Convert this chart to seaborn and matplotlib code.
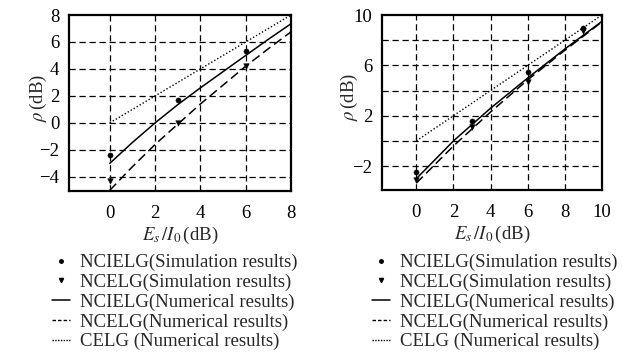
import matplotlib
matplotlib.use("Agg")
import matplotlib.pyplot as plt
from matplotlib.lines import Line2D
import seaborn as sns
import pandas as pd

# left panel
left_x_num = [0, 1, 2, 3, 4, 5, 6, 7, 8]
left_ncielg_num = [-3.0, -1.45, 0.0, 1.35, 2.6, 3.8, 5.0, 6.2, 7.35]
left_ncelg_num = [-5.0, -3.25, -1.6, -0.1, 1.4, 2.8, 4.2, 5.5, 6.75]
left_celg_num = [0, 1, 2, 3, 4, 5, 6, 7, 8]
left_x_sim = [0, 3, 6]
left_ncielg_sim = [-2.35, 1.7, 5.3]
left_ncelg_sim = [-4.3, 0.0, 4.2]

# right panel
right_x_num = [0, 2, 4, 6, 8, 10]
right_ncielg_num = [-3.0, 0.0, 2.6, 5.0, 7.3, 9.5]
right_ncelg_num = [-3.35, -0.4, 2.3, 4.85, 7.2, 9.45]
right_celg_num = [0, 2, 4, 6, 8, 10]
right_x_sim = [0, 3, 6, 9]
right_ncielg_sim = [-2.45, 1.6, 5.5, 9.0]
right_ncelg_sim = [-3.1, 1.1, 4.7, 8.7]

labels = ["NCIELG(Simulation results)", "NCELG(Simulation results)",
          "NCIELG(Numerical results)", "NCELG(Numerical results)",
          "CELG (Numerical results)"]

sns.set_theme(style="white")
plt.rcParams["font.family"] = ["Liberation Serif", "DejaVu Serif"]
plt.rcParams["mathtext.fontset"] = "stix"

W, H = 622, 356
fig = plt.figure(figsize=(W / 100, H / 100), dpi=100)


def px_axes(x0, y0, x1, y1):
    return fig.add_axes([x0 / W, 1 - y1 / H, (x1 - x0) / W, (y1 - y0) / H])


def panel(ax, xn, a, b, c, xs, sa, sb, xlim, ylim, xticks, yticks, ygrid,
          ylab_x):
    num = pd.DataFrame({"x": xn, "a": a, "b": b, "c": c})
    sim = pd.DataFrame({"x": xs, "a": sa, "b": sb})
    sns.lineplot(data=num, x="x", y="a", ax=ax, color="black", lw=1.1)
    sns.lineplot(data=num, x="x", y="b", ax=ax, color="black", lw=1.1,
                 linestyle=(0, (6, 3)))
    sns.lineplot(data=num, x="x", y="c", ax=ax, color="black", lw=1.0,
                 linestyle=(0, (1, 1.5)))
    sns.scatterplot(data=sim, x="x", y="a", ax=ax, color="black", s=14,
                    marker="o", edgecolor="black")
    sns.scatterplot(data=sim, x="x", y="b", ax=ax, color="black", s=16,
                    marker="v", edgecolor="black")
    ax.set_xlim(*xlim)
    ax.set_ylim(*ylim)
    ax.set_xticks(xticks)
    ax.set_yticks(yticks)
    for g in xticks:
        if g < xlim[1] - 0.1:
            ax.axvline(g, color="black", lw=0.9, ls=(0, (5, 3)), zorder=0)
    for g in ygrid:
        ax.axhline(g, color="black", lw=0.9, ls=(0, (5, 3)), zorder=0)
    ax.tick_params(length=0, labelsize=13.5, colors="black")
    ax.tick_params(axis="x", pad=10)
    ax.tick_params(axis="y", pad=7)
    for s in ax.spines.values():
        s.set_color("black")
        s.set_linewidth(1.6)
    ax.set_xlabel(r"$E_s\,/I_0\,$(dB)", fontsize=13.5, labelpad=2)
    ax.set_ylabel(r"$\rho\,$(dB)", fontsize=13.5)
    ax.yaxis.set_label_coords(ylab_x, 0.53)


ax1 = px_axes(69, 15, 291, 191)
panel(ax1, left_x_num, left_ncielg_num, left_ncelg_num, left_celg_num,
      left_x_sim, left_ncielg_sim, left_ncelg_sim,
      (-1.8, 8), (-5.05, 8), [0, 2, 4, 6, 8], [-4, -2, 0, 2, 4, 6, 8],
      [-4, -2, 0, 2, 4, 6], -0.09)

ax2 = px_axes(382, 15, 602, 190)
panel(ax2, right_x_num, right_ncielg_num, right_ncelg_num, right_celg_num,
      right_x_sim, right_ncielg_sim, right_ncelg_sim,
      (-1.85, 10), (-3.9, 10), [0, 2, 4, 6, 8, 10], [-2, 2, 6, 10],
      [-2, 0, 2, 4, 6, 8], -0.10)

handles = [
    Line2D([], [], color="black", marker="o", ms=2.5, ls="none"),
    Line2D([], [], color="black", marker="v", ms=3, ls="none"),
    Line2D([], [], color="black", lw=1.1),
    Line2D([], [], color="black", lw=1.0, ls=(0, (2.5, 1.5))),
    Line2D([], [], color="black", lw=1.0, ls=(0, (1, 1))),
]
for x0 in (52, 372):
    fig.legend(handles, labels, loc="upper left",
               bbox_to_anchor=(x0 / W, 1 - 254 / H), frameon=False,
               fontsize=13.5, handlelength=0.95, handletextpad=0.55,
               labelspacing=0.13, borderpad=0, borderaxespad=0,
               numpoints=1)

fig.savefig("out.png", dpi=100)
